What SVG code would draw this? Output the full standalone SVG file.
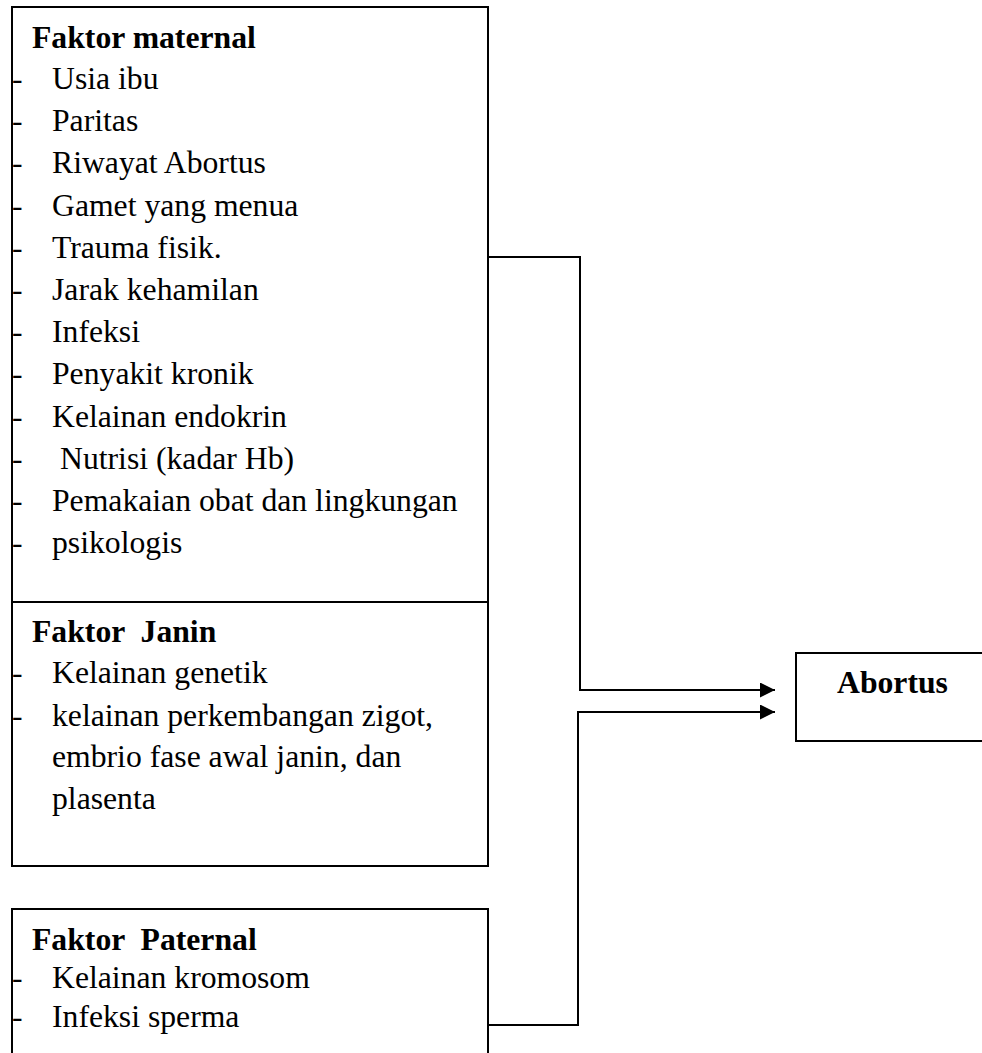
<svg xmlns="http://www.w3.org/2000/svg" width="982" height="1053" viewBox="0 0 982 1053">
<defs>
<style>
.box{fill:#fff;stroke:#000;stroke-width:2}
.t{font-family:"Liberation Serif","Times New Roman",serif;font-size:31.7px;fill:#000}
.b{font-weight:bold}
.c{fill:none;stroke:#000;stroke-width:2}
</style>
<marker id="ah" markerWidth="16" markerHeight="16" refX="15" refY="7.5" orient="auto" markerUnits="userSpaceOnUse">
<path d="M0,0 L15,7.5 L0,15 Z" fill="#000"/>
</marker>
</defs>
<rect width="982" height="1053" fill="#fff"/>
<g id="faktor-maternal">
<rect class="box" x="12" y="7" width="476" height="859"/>
<text class="t b" x="32" y="48">Faktor maternal</text>
<g class="t">
<text x="12" y="89">-</text><text x="52" y="89">Usia ibu</text>
<text x="12" y="131">-</text><text x="52" y="131">Paritas</text>
<text x="12" y="173">-</text><text x="52" y="173">Riwayat Abortus</text>
<text x="12" y="216">-</text><text x="52" y="216">Gamet yang menua</text>
<text x="12" y="258">-</text><text x="52" y="258">Trauma fisik.</text>
<text x="12" y="300">-</text><text x="52" y="300">Jarak kehamilan</text>
<text x="12" y="342">-</text><text x="52" y="342">Infeksi</text>
<text x="12" y="384">-</text><text x="52" y="384">Penyakit kronik</text>
<text x="12" y="427">-</text><text x="52" y="427">Kelainan endokrin</text>
<text x="12" y="469">-</text><text x="60" y="469">Nutrisi (kadar Hb)</text>
<text x="12" y="511">-</text><text x="52" y="511">Pemakaian obat dan lingkungan</text>
<text x="12" y="553">-</text><text x="52" y="553">psikologis</text>
</g>
</g>
<g id="faktor-janin">
<line x1="12" y1="602" x2="488" y2="602" stroke="#000" stroke-width="2"/>
<text class="t b" x="32" y="642" xml:space="preserve">Faktor  Janin</text>
<g class="t">
<text x="12" y="683">-</text><text x="52" y="683">Kelainan genetik</text>
<text x="12" y="726">-</text><text x="52" y="726">kelainan perkembangan zigot,</text>
<text x="52" y="767">embrio fase awal janin, dan</text>
<text x="52" y="809">plasenta</text>
</g>
</g>
<g id="faktor-paternal">
<path class="box" d="M12,1060 L12,909 L488,909 L488,1060"/>
<text class="t b" x="32" y="950" xml:space="preserve">Faktor  Paternal</text>
<g class="t">
<text x="12" y="988">-</text><text x="52" y="988">Kelainan kromosom</text>
<text x="12" y="1027">-</text><text x="52" y="1027">Infeksi sperma</text>
</g>
</g>
<g id="abortus">
<rect class="box" x="796" y="653" width="190" height="88"/>
<text class="t b" x="837" y="693">Abortus</text>
</g>
<g id="connectors">
<path class="c" d="M488,257 L580,257 L580,690 L775,690" marker-end="url(#ah)"/>
<path class="c" d="M488,1025 L578,1025 L578,712 L775,712" marker-end="url(#ah)"/>
</g>
</svg>
